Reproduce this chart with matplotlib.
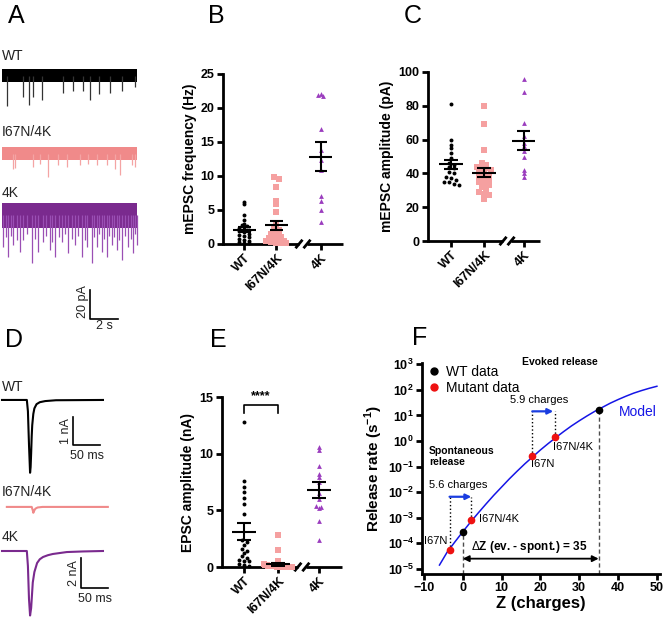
import numpy as np
import matplotlib.pyplot as plt
from matplotlib.lines import Line2D
from matplotlib.ticker import NullLocator

plt.rcParams['font.family'] = ['Liberation Sans', 'DejaVu Sans']
plt.rcParams['mathtext.fontset'] = 'custom'
plt.rcParams['mathtext.rm'] = 'Liberation Sans'
plt.rcParams['mathtext.bf'] = 'Liberation Sans:bold'

W, H = 663, 623
fig = plt.figure(figsize=(W / 100, H / 100), dpi=100)

groups = ['WT', 'I67N/4K', '4K']
c_wt = 'black'
c_mut = '#F5A0A0'
c_4k = '#9B3DBE'
c_mut_tr = '#F08A8A'
c_4k_tr = '#7A2A8E'

# ---- A: mEPSC traces (event times in s, amplitudes in pA) ----
ev_wt_t = [0.36, 1.5, 1.93, 2.21, 2.86, 4.36, 5.07, 5.79, 6.29, 6.93, 7.71, 8.57, 9.5]
ev_wt_a = [21, 15, 20, 15, 17, 12, 11, 11, 17, 13, 12, 11, 8]
ev_mut_t = [0.79, 0.93, 2.21, 2.71, 3.29, 4.0, 4.64, 5.57, 6.14, 6.79, 7.5, 8.07, 8.43, 9.29, 9.5]
ev_mut_a = [11, 10, 9, 7, 16, 8, 9, 8, 7, 8, 8, 11, 15, 8, 9]
ev_4k_t = [0.1, 0.45, 0.81, 1.29, 1.52, 2.12, 2.59, 2.95, 3.43, 3.79, 4.26, 4.74, 5.21, 5.69,
           6.05, 6.4, 6.76, 7.12, 7.48, 7.83, 8.19, 8.55, 9.02, 9.38, 9.62,
           0.25, 0.65, 1.05, 1.75, 2.35, 3.15, 3.6, 4.05, 4.5, 5.0, 5.45, 5.9, 6.6, 6.95,
           7.3, 7.65, 8.0, 8.35, 8.8, 9.2, 9.5]
ev_4k_a = [21.5, 28.4, 20.3, 25, 16.9, 33, 25, 18, 23.8, 28.4, 18, 26, 20.3, 28.4,
           21.5, 33, 21.5, 25, 28.4, 20.3, 23.8, 30.7, 21.5, 26, 20.3,
           15, 14, 17, 13, 16, 14, 18, 15, 13, 16, 14, 17, 15, 13,
           16, 14, 15, 17, 14, 16, 13]

# ---- D: evoked EPSC traces (ms, nA) ----
epsc_wt_t = [0, 46, 48, 50, 52, 53, 54, 55, 56, 58, 60, 64, 70, 80, 100, 187]
epsc_wt_i = [0, 0, -0.4, -1.6, -2.6, -2.4, -1.9, -1.3, -0.9, -0.5, -0.3, -0.15, -0.08, -0.04, -0.01, 0]
epsc_mut_t = [9, 55, 57, 58, 60, 62, 66, 75, 196]
epsc_mut_i = [0, 0, -0.12, -0.21, -0.12, -0.06, -0.02, 0, 0]
epsc_4k_t = [0, 46, 48, 50, 52, 54, 57, 60, 65, 70, 76, 85, 94, 120, 150, 187]
epsc_4k_i = [0, 0, -1.0, -3.2, -4.3, -3.8, -2.1, -1.4, -0.8, -0.55, -0.4, -0.28, -0.2, -0.07, -0.03, 0]

# ---- B: mEPSC frequency (Hz) ----
freq_wt = [6.2, 5.9, 4.2, 3.6, 3.0, 2.8, 2.6, 2.4, 2.2, 2.0, 1.9, 1.7, 1.5, 1.3, 1.2, 1.0,
           0.8, 0.6, 0.5, 0.3, 0.2, 0.1]
freq_mut = [9.8, 9.6, 8.4, 6.3, 5.9, 4.7, 3.0, 2.6, 2.4, 2.1, 1.8, 1.6, 1.4, 1.2, 1.0, 0.9,
            0.8, 0.7, 0.5, 0.4, 0.3, 0.2, 0.2, 0.1]
freq_4k = [22.1, 21.9, 21.8, 16.9, 13.8, 12.4, 10.9, 7.1, 6.3, 5.0, 3.3]

# ---- C: mEPSC amplitude (pA) ----
amp_wt = [81, 60, 57, 55, 52, 49, 46, 45, 44, 43, 41, 40, 38, 37, 36, 35, 35, 34, 33]
amp_mut = [80, 69, 54, 46, 45, 44, 44, 43, 42, 41, 40, 39, 38, 37, 36, 35, 34, 33, 32, 30,
           29, 28, 27, 25]
amp_4k = [96, 88, 70, 62, 58, 56, 53, 50, 42, 40, 38]

# ---- E: EPSC amplitude (nA) ----
epsc_wt = [12.8, 7.6, 7.1, 6.6, 6.1, 5.6, 4.7, 2.4, 2.2, 1.9, 1.6, 1.4, 1.2, 1.0, 0.8, 0.6,
           0.5, 0.5, 0.3, 0.2, 0.1]
epsc_mut = [2.8, 1.5, 0.5, 0.3, 0.2, 0.15, 0.1, 0.1, 0.08, 0.06, 0.05, 0.05, 0.04, 0.04,
            0.03, 0.03, 0.02, 0.02, 0.02, 0.01, 0.01, 0.01, 0.01, 0.01]
epsc_4k = [10.6, 10.3, 8.9, 8.2, 7.9, 7.5, 6.5, 6.0, 5.4, 5.3, 5.2, 4.1, 2.4]

# ---- F: model and data (Z in charges, release rate in 1/s) ----
model_z = [-6, -4, -2, 0, 2, 4, 6, 8, 10, 12, 14, 16, 18, 20, 22, 24, 26, 28, 30, 32, 34,
           36, 38, 40, 42, 44, 46, 48, 50]
model_log = [-4.85, -4.34, -3.94, -3.55, -3.17, -2.81, -2.46, -2.12, -1.80, -1.48, -1.18,
             -0.89, -0.62, -0.35, -0.10, 0.14, 0.37, 0.59, 0.79, 0.98, 1.16, 1.32, 1.48,
             1.62, 1.75, 1.87, 1.97, 2.06, 2.14]
wt_z = [0, 35]
wt_rate = [2.8e-4, 17]
mut_z = [-3.4, 2.2, 17.9, 23.8]
mut_rate = [5.5e-5, 8.5e-4, 0.25, 1.4]


def px_axes(x0, y0, x1, y1):
    return fig.add_axes([x0 / W, 1 - y1 / H, (x1 - x0) / W, (y1 - y0) / H])


def ftext(x, y, s, **kw):
    fig.text(x / W, 1 - y / H, s, **kw)


def swarm(vals, binw, dx, maxw):
    vals = np.asarray(vals, float)
    offs = np.zeros(len(vals))
    bins = np.floor(vals / binw).astype(int)
    for b in np.unique(bins):
        idx = np.where(bins == b)[0]
        k = len(idx)
        o = (np.arange(k) - (k - 1) / 2) * dx
        if k > 1 and o.max() > maxw:
            o = np.linspace(-maxw, maxw, k)
        offs[idx] = o
    return offs


def mean_sem(ax, x, vals, wm=0.36, wc=0.2):
    v = np.asarray(vals, float)
    m = v.mean()
    s = v.std(ddof=1) / np.sqrt(len(v))
    kw = dict(color='black', lw=1.5, zorder=5)
    ax.hlines(m, x - wm, x + wm, **kw)
    ax.vlines(x, m - s, m + s, **kw)
    ax.hlines([m - s, m + s], x - wc, x + wc, **kw)


def dot_panel(ax, pos, xlim, brk, data, ylim, yticks, ylabel, binw, ppx):
    markers = [('o', c_wt, 8), ('s', c_mut, 14), ('^', c_4k, 12)]
    for x, vals, (mk, col, sz) in zip(pos, data, markers):
        off = swarm(vals, binw, 5 / ppx, 0.42)
        ax.scatter(x + off, vals, marker=mk, s=sz, color=col, lw=0, zorder=3, clip_on=False)
        mean_sem(ax, x, vals)
    ax.set_xlim(xlim)
    ax.set_ylim(ylim)
    for s in ['top', 'right', 'bottom']:
        ax.spines[s].set_visible(False)
    ax.spines['left'].set_linewidth(2)
    ax.set_yticks(yticks)
    ax.set_xticks(pos)
    ax.set_xticklabels(groups, rotation=45, ha='right', rotation_mode='anchor',
                       fontweight='bold', fontsize=9)
    ax.tick_params(axis='both', width=2, length=4, labelsize=9, pad=2)
    for lab in ax.get_yticklabels():
        lab.set_fontweight('bold')
    ax.set_ylabel(ylabel, fontweight='bold', fontsize=10, labelpad=3)
    tr = ax.get_xaxis_transform()
    gap = 4 / ppx
    lkw = dict(transform=tr, color='black', lw=2, clip_on=False, solid_capstyle='butt')
    ax.plot([xlim[0], brk - gap], [0, 0], **lkw)
    ax.plot([brk + gap, xlim[1]], [0, 0], **lkw)
    for bx in (brk - gap, brk + gap):
        ax.plot([bx - 3.5 / ppx, bx + 3.5 / ppx], [-0.025, 0.025], **lkw)


# ---------------- Panel A ----------------
axA = px_axes(0, 40, 140, 330)
axA.set_xlim(-2 / 14, 138 / 14)
axA.set_ylim(-200, 0)
axA.axis('off')
for base, half, ev_t, ev_a, col, ecol in [
        (-24.5, 4.5, ev_wt_t, ev_wt_a, 'black', '#333333'),
        (-78.3, 4.5, ev_mut_t, ev_mut_a, c_mut_tr, '#F4A4A4'),
        (-121.0, 8.6, ev_4k_t, ev_4k_a, c_4k_tr, '#9A4FB4')]:
    axA.fill_between([0, 9.64], base - half, base + half, color=col, lw=0)
    axA.vlines(ev_t, base - np.array(ev_a), base, color=ecol, lw=0.9)
axA.plot([6.29, 6.29, 8.29], [-172.4, -192.4, -192.4], color='black', lw=1.2)
ftext(83, 302, '20 pA', rotation=90, ha='center', va='center', fontsize=9, color='#222222')
ftext(104, 320, '2 s', ha='center', va='top', fontsize=9, color='#222222')
ftext(2, 56, 'WT', ha='left', va='center', fontsize=10, color='#222222')
ftext(2, 132, 'I67N/4K', ha='left', va='center', fontsize=10, color='#222222')
ftext(2, 193, '4K', ha='left', va='center', fontsize=10, color='#222222')

# ---------------- Panel D ----------------
axD1 = px_axes(0, 370, 140, 530)
axD1.set_xlim(-3.7, 255.6)
axD1.set_ylim(-160 / 28, 0)
axD1.axis('off')
axD1.plot(epsc_wt_t, np.array(epsc_wt_i) - 1.07, color='black', lw=1.5)
axD1.plot(epsc_mut_t, np.array(epsc_mut_i) - 4.89, color=c_mut_tr, lw=1.5)
axD1.plot([131, 131, 181], [-1.68, -2.68, -2.68], color='black', lw=1.2)
axD2 = px_axes(0, 530, 140, 623)
axD2.set_xlim(-3.7, 255.6)
axD2.set_ylim(-93 / 15, 0)
axD2.axis('off')
axD2.plot(epsc_4k_t, np.array(epsc_4k_i) - 1.4, color=c_4k_tr, lw=1.5)
axD2.plot([146, 146, 196], [-1.87, -3.87, -3.87], color='black', lw=1.2)
ftext(66, 431, '1 nA', rotation=90, ha='center', va='center', fontsize=9, color='#222222')
ftext(87, 450, '50 ms', ha='center', va='top', fontsize=9, color='#222222')
ftext(74, 573, '2 nA', rotation=90, ha='center', va='center', fontsize=9, color='#222222')
ftext(95, 593, '50 ms', ha='center', va='top', fontsize=9, color='#222222')
ftext(2, 387, 'WT', ha='left', va='center', fontsize=10, color='#222222')
ftext(2, 492, 'I67N/4K', ha='left', va='center', fontsize=10, color='#222222')
ftext(2, 537, '4K', ha='left', va='center', fontsize=10, color='#222222')

# ---------------- Panels B, C, E ----------------
axB = px_axes(223, 74, 343, 244)
dot_panel(axB, [1, 2, 3.4], (0.34, 4.09), 2.84, [freq_wt, freq_mut, freq_4k],
          (0, 25), [0, 5, 10, 15, 20, 25], 'mEPSC frequency (Hz)', 0.5, 32)

axC = px_axes(428, 72, 540, 241)
dot_panel(axC, [1, 2, 3.2], (0.3, 3.7), 2.7, [amp_wt, amp_mut, amp_4k],
          (0, 100), [0, 20, 40, 60, 80, 100], 'mEPSC amplitude (pA)', 3.0, 33)

axE = px_axes(222, 397, 342, 567)
dot_panel(axE, [1, 2, 3.2], (0.35, 3.88), 2.7, [epsc_wt, epsc_mut, epsc_4k],
          (0, 15), [0, 5, 10, 15], 'EPSC amplitude (nA)', 0.35, 34)
axE.plot([1, 1, 2, 2], [13.6, 14.3, 14.3, 13.6], color='black', lw=1.2, clip_on=False)
axE.text(1.5, 14.5, '****', ha='center', va='bottom', fontsize=9, fontweight='bold')

# ---------------- Panel F ----------------
axF = px_axes(422, 363, 660, 574)
axF.set_yscale('log')
axF.set_xlim(-10.5, 50.8)
axF.set_ylim(10 ** -5.2, 10 ** 3.05)
axF.plot(model_z, 10 ** np.array(model_log), color='#1515E6', lw=1.1, zorder=2)
axF.plot(wt_z, wt_rate, 'o', color='black', ms=4.5, zorder=4)
axF.plot(mut_z, mut_rate, 'o', color='#EE1111', ms=4.5, zorder=4)
for s in ['top', 'right']:
    axF.spines[s].set_visible(False)
axF.spines['left'].set_linewidth(2)
axF.spines['bottom'].set_linewidth(2)
exps = list(range(-5, 4))
axF.set_yticks([10.0 ** k for k in exps])
axF.set_yticklabels([r'$\mathbf{10^{%d}}$' % k for k in exps])
axF.yaxis.set_minor_locator(NullLocator())
axF.set_xticks([-10, 0, 10, 20, 30, 40, 50])
axF.tick_params(axis='both', width=2, length=4, labelsize=9, pad=2)
for lab in axF.get_xticklabels():
    lab.set_fontweight('bold')
axF.set_xlabel('Z (charges)', fontweight='bold', fontsize=12, labelpad=1)
axF.set_ylabel(r'Release rate (s$^{\mathbf{-1}}$)', fontweight='bold', fontsize=11, labelpad=2)

# dashed lines to axis and delta-Z arrow
ybot = 10 ** -5.2
axF.plot([0, 0], [ybot, wt_rate[0]], ls=(0, (3, 2)), color='0.3', lw=1)
axF.plot([35, 35], [ybot, wt_rate[1]], ls=(0, (3, 2)), color='0.3', lw=1)
axF.annotate('', xy=(35, 10 ** -4.6), xytext=(0, 10 ** -4.6),
             arrowprops=dict(arrowstyle='<|-|>', color='black', lw=1.3, mutation_scale=9,
                             shrinkA=0, shrinkB=0))
axF.text(2.0, 10 ** -4.14, r'$\Delta$Z (ev. - spont.) = 35', fontsize=8.5, fontweight='bold',
         va='center', ha='left')

# spontaneous shift
y_sp = 10 ** -2.18
for z, r in zip(mut_z[:2], mut_rate[:2]):
    axF.plot([z, z], [r, y_sp], ls=':', color='black', lw=1)
axF.annotate('', xy=(mut_z[1], y_sp), xytext=(mut_z[0], y_sp),
             arrowprops=dict(arrowstyle='-|>', color='#1a3de0', lw=1.6, mutation_scale=8,
                             shrinkA=0, shrinkB=0))
axF.text(-8.7, 10 ** -1.71, '5.6 charges', fontsize=8, va='center', ha='left')
axF.text(-8.7, 10 ** -0.6, 'Spontaneous\nrelease', fontsize=7.5, fontweight='bold',
         va='center', ha='left', linespacing=1.1)
axF.text(4.1, 10 ** -3.04, 'I67N/4K', fontsize=8, va='center', ha='left')
axF.text(-3.9, 10 ** -3.9, 'I67N', fontsize=8, va='center', ha='right')

# evoked shift
y_ev = 10 ** 1.16
for z, r in zip(mut_z[2:], mut_rate[2:]):
    axF.plot([z, z], [r, y_ev], ls=':', color='black', lw=1)
axF.annotate('', xy=(mut_z[3] - 0.5, y_ev), xytext=(mut_z[2], y_ev),
             arrowprops=dict(arrowstyle='-|>', color='#1a3de0', lw=1.6, mutation_scale=8,
                             shrinkA=0, shrinkB=0))
axF.text(19.7, 10 ** 1.59, '5.9 charges', fontsize=8, va='center', ha='center')
axF.text(24.9, 10 ** 3.1, 'Evoked release', fontsize=7.5, fontweight='bold', va='center',
         ha='center')
axF.text(23.3, 10 ** -0.22, 'I67N/4K', fontsize=8, va='center', ha='left')
axF.text(17.7, 10 ** -0.9, 'I67N', fontsize=8, va='center', ha='left')
axF.text(40.3, 10 ** 1.12, 'Model', fontsize=10, color='#1515E6', va='center', ha='left')

axF.legend(handles=[Line2D([], [], marker='o', color='black', ls='', ms=5, label='WT data'),
                    Line2D([], [], marker='o', color='#EE1111', ls='', ms=5, label='Mutant data')],
           loc='upper left', bbox_to_anchor=(-0.01, 1.03), frameon=False, fontsize=10,
           handlelength=0.8, handletextpad=0.5, labelspacing=0.15, borderaxespad=0.2)

# panel letters
for letter, x, y in [('A', 8, 23), ('B', 208, 23), ('C', 404, 23),
                     ('D', 5, 347), ('E', 210, 347), ('F', 412, 345)]:
    ftext(x, y, letter, fontsize=18, ha='left', va='baseline')

fig.savefig('out.png', dpi=100)
